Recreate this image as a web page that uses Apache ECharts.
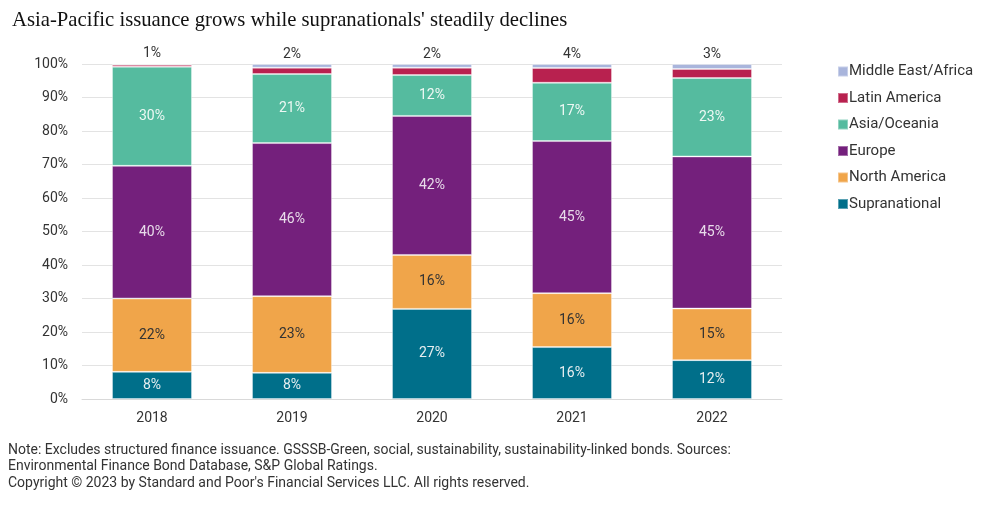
<!DOCTYPE html>
<html><head><meta charset="utf-8">
<script src="https://cdn.jsdelivr.net/npm/echarts@6/dist/echarts.min.js"></script>
<style>html,body{margin:0;padding:0;background:#fff;}#c{width:989px;height:509px;}</style>
</head><body><div id="c"></div>
<script>
const years = ['2018','2019','2020','2021','2022'];
const supranational = [8.1, 7.8, 26.9, 15.5, 11.6];
const northAmerica = [21.9, 22.9, 16.1, 16.1, 15.4];
const europe = [39.6, 45.7, 41.5, 45.4, 45.4];
const asiaOceania = [29.6, 20.6, 12.2, 17.4, 23.4];
const latinAmerica = [0.6, 1.9, 2.2, 4.4, 2.7];
const middleEastAfrica = [0.2, 1.1, 1.1, 1.2, 1.5];
const topLabels = ['1%','2%','2%','4%','3%'];
const yTicks = [0,10,20,30,40,50,60,70,80,90,100];

const chart = echarts.init(document.getElementById('c'));
const lbl = (color) => ({show:true, position:'inside', color:color, fontSize:14, fontFamily:'Roboto',
  formatter: p => Math.round(p.value) + '%'});
const border = {borderColor:'rgba(255,255,255,0.35)', borderWidth:1};
function s(name, data, color, label){
  return {name, type:'bar', stack:'t', data, barWidth:80,
    itemStyle:Object.assign({color}, border), label: label || {show:false}, emphasis:{disabled:true}};
}
chart.setOption({
  animation:false,
  title:{text:"Asia-Pacific issuance grows while supranationals' steadily declines", left:7, top:5,
    textStyle:{fontFamily:'Liberation Serif', fontSize:20.7, fontWeight:'normal', color:'#111'}},
  graphic:[{type:'text', left:8, top:442, style:{
    text:"Note: Excludes structured finance issuance. GSSSB-Green, social, sustainability, sustainability-linked bonds. Sources:\nEnvironmental Finance Bond Database, S&P Global Ratings.\nCopyright © 2023 by Standard and Poor's Financial Services LLC. All rights reserved.",
    font:'14px Roboto', fill:'#333', lineHeight:16.5}}],
  legend:{orient:'vertical', left:832, top:59, itemWidth:10, itemHeight:10, itemGap:11.5, icon:'rect',
    textStyle:{fontSize:15, color:'#333', fontFamily:'Roboto', padding:[0,0,0,-4]},
    data:['Middle East/Africa','Latin America','Asia/Oceania','Europe','North America','Supranational']},
  grid:{left:82, right:207, top:64, bottom:110},
  xAxis:{type:'category', data:years, axisTick:{show:false},
    axisLine:{lineStyle:{color:'#d9d9d9'}},
    axisLabel:{color:'#333', fontSize:14, fontFamily:'Roboto', margin:12}},
  yAxis:{type:'value', min:0, max:100, interval:10,
    splitLine:{lineStyle:{color:'#e3e3e3'}},
    axisLabel:{color:'#333', fontSize:14, fontFamily:'Roboto', margin:14,
      formatter: v => yTicks.includes(v) ? v + '%' : ''}},
  series:[
    s('Supranational', supranational, '#006f8a', lbl('#e6eef0')),
    s('North America', northAmerica, '#f0a54a', lbl('#333')),
    s('Europe', europe, '#74207c', lbl('#e8dcea')),
    s('Asia/Oceania', asiaOceania, '#55bb9f', lbl('#eef8f4')),
    s('Latin America', latinAmerica, '#b8214f'),
    s('Middle East/Africa', middleEastAfrica, '#a9b5dc', {show:true, position:'top', distance:3,
      color:'#333', fontSize:14, fontFamily:'Roboto', formatter: p => topLabels[p.dataIndex]})
  ]
});
</script></body></html>
